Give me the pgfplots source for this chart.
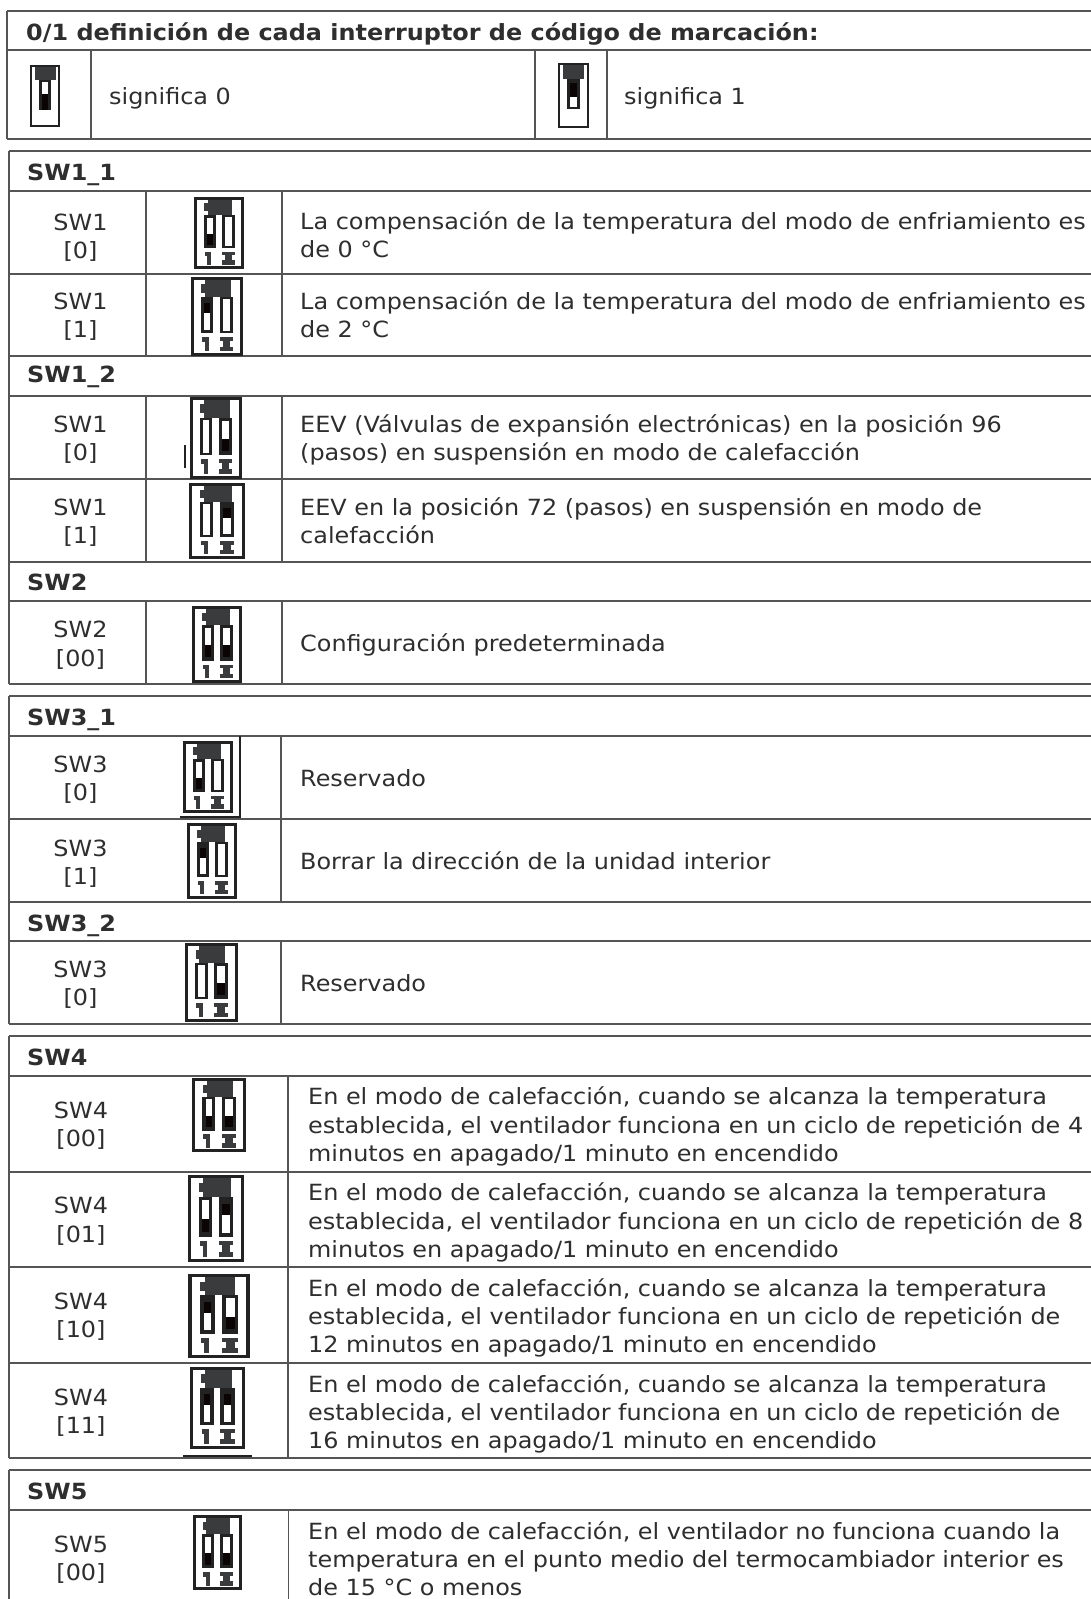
\documentclass[border=0pt]{standalone}
\usepackage{pgfplots}
\pgfplotsset{compat=1.18}
\usepackage{fontspec}
\setmainfont[FakeStretch=1.072]{DejaVu Sans}
\definecolor{ln}{HTML}{555555}
\definecolor{tx}{HTML}{2E2E2E}
\definecolor{dk}{HTML}{3A3B3D}
\definecolor{fr}{HTML}{222222}
\definecolor{bk}{HTML}{0A0504}
\newcommand\HL[3]{\addplot[ln,line width=1.5pt,forget plot] coordinates {(#2,#1)(#3,#1)};}
\newcommand\VL[3]{\addplot[ln,line width=1.5pt,forget plot] coordinates {(#1,#2)(#1,#3)};}
\newcommand\TT[3]{\node[anchor=base west,inner sep=0pt,text=tx] at (axis cs:#1,#2) {\fontsize{22.3}{26}\selectfont #3};}
\newcommand\BB[3]{\node[anchor=base west,inner sep=0pt,text=tx] at (axis cs:#1,#2) {\fontsize{22.3}{26}\selectfont\bfseries #3};}
\newcommand\CC[3]{\node[anchor=base,inner sep=0pt,text=tx] at (axis cs:#1,#2) {\fontsize{22.3}{26}\selectfont #3};}
\newcommand\RR[5]{%
 \pgfmathsetmacro\ra{\ix+#1*\iw}\pgfmathsetmacro\rb{\iy+#2*\ih}%
 \pgfmathsetmacro\rc{\ix+#3*\iw}\pgfmathsetmacro\rd{\iy+#4*\ih}%
 \addplot[fill=#5,draw=none,forget plot] coordinates {(\ra,\rb)(\rc,\rb)(\rc,\rd)(\ra,\rd)} -- cycle;}
\newcommand\SW[3]{% u0, u1, state
 \pgfmathsetmacro\ua{#1+0.06}\pgfmathsetmacro\ub{#2-0.06}%
 \ifcase#3\relax
  \RR{#1}{0.25}{#2}{0.71}{fr}\RR{\ua}{0.29}{\ub}{0.51}{white}\RR{\ua}{0.51}{\ub}{0.66}{bk}%
 \or
  \RR{#1}{0.25}{#2}{0.71}{fr}\RR{\ua}{0.33}{\ub}{0.46}{bk}\RR{\ua}{0.46}{\ub}{0.67}{white}%
 \else
  \RR{#1}{0.25}{#2}{0.71}{fr}\RR{\ua}{0.28}{\ub}{0.68}{white}%
 \fi}
\newcommand\ICON[6]{% x0 y0 x1 y1 L R
 \pgfmathsetmacro\ix{#1}\pgfmathsetmacro\iy{#2}%
 \pgfmathsetmacro\iw{#3-#1}\pgfmathsetmacro\ih{#4-#2}%
 \RR{0}{0}{1}{1}{fr}\RR{0.06}{0.035}{0.94}{0.965}{white}%
 \RR{0.27}{0.04}{0.76}{0.25}{dk}\RR{0.2}{0.09}{0.3}{0.2}{dk}%
 \SW{0.19}{0.43}{#5}\SW{0.55}{0.81}{#6}%
 \RR{0.21}{0.76}{0.34}{0.82}{dk}\RR{0.26}{0.76}{0.34}{0.94}{dk}%
 \RR{0.55}{0.76}{0.81}{0.81}{dk}\RR{0.61}{0.76}{0.75}{0.94}{dk}\RR{0.55}{0.88}{0.81}{0.94}{dk}}
\begin{document}
\begin{tikzpicture}
\begin{axis}[
  scale only axis,width=1091pt,height=1599pt,
  xmin=0,xmax=1091,ymin=0,ymax=1599,y dir=reverse,
  axis lines=none,clip=true]
% page extent
\addplot[fill=white,draw=none,forget plot] coordinates {(0,0)(1091,0)(1091,1599)(0,1599)} -- cycle;
% top table
\HL{11}{7}{1091}\HL{50}{7}{1091}\HL{139}{7}{1091}
\VL{7}{11}{139}\VL{91}{50}{139}\VL{535}{50}{139}\VL{607}{50}{139}
% SW1/SW2
\HL{151}{9}{1091}\HL{191}{9}{1091}\HL{274}{9}{1091}\HL{356}{9}{1091}\HL{396}{9}{1091}
\HL{479}{9}{1091}\HL{562}{9}{1091}\HL{601}{9}{1091}\HL{684}{9}{1091}
\VL{9}{151}{684}
\VL{146}{191}{356}\VL{282}{191}{356}\VL{146}{396}{562}\VL{282}{396}{562}\VL{146}{601}{684}\VL{282}{601}{684}
% SW3
\HL{696}{9}{1091}\HL{736}{9}{1091}\HL{819}{9}{1091}\HL{902}{9}{1091}\HL{941}{9}{1091}\HL{1024}{9}{1091}
\VL{9}{696}{1024}\VL{281}{736}{902}\VL{281}{941}{1024}
% SW4
\HL{1036}{9}{1091}\HL{1076}{9}{1091}\HL{1172}{9}{1091}\HL{1267}{9}{1091}\HL{1363}{9}{1091}\HL{1458}{9}{1091}
\VL{9}{1036}{1458}\VL{288}{1076}{1458}
% SW5
\HL{1470}{9}{1091}\HL{1510}{9}{1091}
\VL{9}{1470}{1599}\VL{288.5}{1510}{1599}
% single-switch icons of the top table
\pgfmathsetmacro\ix{30}\pgfmathsetmacro\iy{65}\pgfmathsetmacro\iw{30}\pgfmathsetmacro\ih{62}
\RR{0}{0}{1}{1}{fr}\RR{0.07}{0.03}{0.93}{0.97}{white}
\RR{0.15}{0.03}{0.85}{0.24}{dk}\RR{0.3}{0.24}{0.7}{0.72}{fr}\RR{0.4}{0.28}{0.6}{0.46}{white}\RR{0.4}{0.46}{0.6}{0.72}{bk}
\pgfmathsetmacro\ix{558}\pgfmathsetmacro\iy{63}\pgfmathsetmacro\iw{31}\pgfmathsetmacro\ih{65}
\RR{0}{0}{1}{1}{fr}\RR{0.07}{0.03}{0.93}{0.97}{white}
\RR{0.15}{0.03}{0.85}{0.24}{dk}\RR{0.3}{0.24}{0.7}{0.71}{fr}\RR{0.4}{0.3}{0.6}{0.52}{bk}\RR{0.4}{0.52}{0.6}{0.68}{white}
% dip-switch icons
\ICON{194}{197}{244}{269}{0}{2}
\ICON{191}{277}{243}{356}{1}{2}
\ICON{190}{397}{242}{479}{2}{0}
\ICON{189}{483}{245}{559}{2}{1}
\ICON{192}{606}{242}{683}{0}{0}
\ICON{183}{741}{233}{813}{0}{2}
\ICON{187}{823}{237}{899}{1}{2}
\ICON{185}{943}{238}{1022}{2}{0}
\ICON{192}{1078}{246}{1152}{0}{0}
\ICON{188}{1175}{244}{1262}{0}{1}
\ICON{188}{1274}{250}{1358}{1}{0}
\ICON{190}{1367}{245}{1449}{1}{1}
\ICON{193}{1515}{242}{1590}{0}{0}
% stray strokes of the scan
\addplot[fr,line width=2.4pt,forget plot] coordinates {(185,445)(185,468)};
\addplot[fr,line width=2.4pt,forget plot] coordinates {(240,736)(240,817)(180,817)};
\addplot[fr,line width=2.4pt,forget plot] coordinates {(183,1456)(252,1456)};
% text
\BB{26}{40}{0/1 definición de cada interruptor de código de marcación:}
\TT{109}{104}{significa 0}\TT{624}{104}{significa 1}
\BB{27}{180}{SW1\_1}
\CC{80.5}{230}{SW1}\CC{80.5}{258}{[0]}
\TT{300}{229}{La compensación de la temperatura del modo de enfriamiento es}\TT{300}{257}{de 0 °C}
\CC{80.5}{309}{SW1}\CC{80.5}{337}{[1]}
\TT{300}{309}{La compensación de la temperatura del modo de enfriamiento es}\TT{300}{337}{de 2 °C}
\BB{27}{382}{SW1\_2}
\CC{80.5}{432}{SW1}\CC{80.5}{460}{[0]}
\TT{300}{432}{EEV (Válvulas de expansión electrónicas) en la posición 96}\TT{300}{460}{(pasos) en suspensión en modo de calefacción}
\CC{80.5}{515}{SW1}\CC{80.5}{543}{[1]}
\TT{300}{515}{EEV en la posición 72 (pasos) en suspensión en modo de}\TT{300}{543}{calefacción}
\BB{27}{590}{SW2}
\CC{80.5}{637}{SW2}\CC{80.5}{666}{[00]}
\TT{300}{651}{Configuración predeterminada}
\BB{27}{725}{SW3\_1}
\CC{80.5}{772}{SW3}\CC{80.5}{800}{[0]}
\TT{300}{786}{Reservado}
\CC{80.5}{856}{SW3}\CC{80.5}{884}{[1]}
\TT{300}{869}{Borrar la dirección de la unidad interior}
\BB{27}{931}{SW3\_2}
\CC{80.5}{977}{SW3}\CC{80.5}{1005}{[0]}
\TT{300}{991}{Reservado}
\BB{27}{1065}{SW4}
\CC{81}{1118}{SW4}\CC{81}{1146}{[00]}
\TT{308}{1104}{En el modo de calefacción, cuando se alcanza la temperatura}
\TT{308}{1133}{establecida, el ventilador funciona en un ciclo de repetición de 4}
\TT{308}{1161}{minutos en apagado/1 minuto en encendido}
\CC{81}{1213}{SW4}\CC{81}{1242}{[01]}
\TT{308}{1200}{En el modo de calefacción, cuando se alcanza la temperatura}
\TT{308}{1229}{establecida, el ventilador funciona en un ciclo de repetición de 8}
\TT{308}{1257}{minutos en apagado/1 minuto en encendido}
\CC{81}{1309}{SW4}\CC{81}{1337}{[10]}
\TT{308}{1296}{En el modo de calefacción, cuando se alcanza la temperatura}
\TT{308}{1324}{establecida, el ventilador funciona en un ciclo de repetición de}
\TT{308}{1352}{12 minutos en apagado/1 minuto en encendido}
\CC{81}{1405}{SW4}\CC{81}{1433}{[11]}
\TT{308}{1392}{En el modo de calefacción, cuando se alcanza la temperatura}
\TT{308}{1420}{establecida, el ventilador funciona en un ciclo de repetición de}
\TT{308}{1448}{16 minutos en apagado/1 minuto en encendido}
\BB{27}{1499}{SW5}
\CC{81}{1552}{SW5}\CC{81}{1580}{[00]}
\TT{308}{1539}{En el modo de calefacción, el ventilador no funciona cuando la}
\TT{308}{1567}{temperatura en el punto medio del termocambiador interior es}
\TT{308}{1595}{de 15 °C o menos}
\end{axis}
\end{tikzpicture}
\end{document}
